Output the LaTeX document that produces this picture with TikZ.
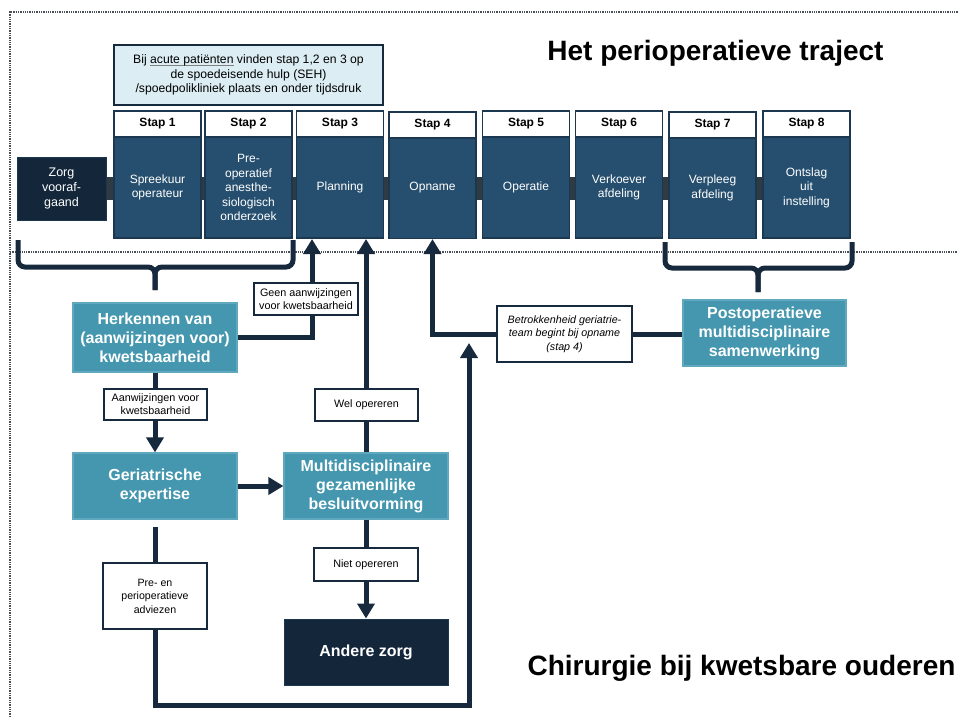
\documentclass[tikz,border=0pt]{standalone}
\usepackage{fontspec}
\setmainfont{Liberation Sans}
\usetikzlibrary{arrows.meta}
\definecolor{stageblue}{HTML}{264F6F}
\definecolor{stageborder}{HTML}{1B3850}
\definecolor{navy}{HTML}{13263A}
\definecolor{tealbox}{HTML}{4497AE}
\definecolor{tealborder}{HTML}{5FA8BD}
\definecolor{bandgray}{HTML}{2E3B43}
\definecolor{linecol}{HTML}{172A3D}
\definecolor{lightblue}{HTML}{DCEEF4}
\definecolor{dotcol}{HTML}{4A4F55}
\newcommand\myfs[2]{\fontsize{#1}{#2}\selectfont}
\newcommand\myul[1]{\setbox0\hbox{#1}\rlap{\raisebox{-2pt}{\color{gray}\rule{\wd0}{0.7pt}}}\box0\relax}
\begin{document}
\begin{tikzpicture}[x=1pt,y=-1pt,
  stagebody/.style={fill=stageblue,draw=stageborder,line width=1.2pt,text=white,
    font=\myfs{12}{14.5},align=center,minimum width=87pt,minimum height=101pt,inner sep=0pt},
  stephead/.style={fill=white,draw=stageborder,line width=1.2pt,text=black,
    font=\myfs{12}{14}\bfseries,minimum width=87pt,minimum height=26pt,inner sep=0pt},
  navybox/.style={fill=navy,draw=stageborder,line width=1pt,text=white,align=center,inner sep=0pt},
  tealnode/.style={fill=tealbox,draw=tealborder,line width=1.2pt,text=white,
    font=\myfs{16}{19}\bfseries,align=center,minimum width=164pt,minimum height=66pt,inner sep=0pt},
  lbl/.style={fill=white,draw=linecol,line width=1.3pt,text=black,
    font=\myfs{10.8}{12.8},align=center,inner sep=0pt},
  conn/.style={draw=linecol,line width=5pt},
  arr/.style={conn,-{Triangle[width=17pt,length=15pt]}},
  dotline/.style={draw=dotcol,line width=1.3pt,dash pattern=on 1.3pt off 1pt},
  titletext/.style={font=\myfs{28}{32}\bfseries,text=black,inner sep=0pt}
]
\useasboundingbox (0,0) rectangle (958,717);
\fill[white] (0,0) rectangle (958,717);

% dotted frame
\draw[dotline] (10,717) -- (10,12) -- (958,12);
\draw[dotline] (10,252) -- (958,252);

% titles
\node[titletext] (t1) at (715.5,53) {Het perioperatieve traject};
\node[titletext] (t2) at (741.5,668) {Chirurgie bij kwetsbare ouderen};

% acute box
\node[fill=lightblue,draw=linecol,line width=1.5pt,font=\myfs{12.2}{14.5},align=center,
  minimum width=269pt,minimum height=60pt,inner sep=0pt] (acute) at (248.5,75)
  {Bij \myul{acute patiënten} vinden stap 1,2 en 3 op\\de spoedeisende hulp (SEH)\\/spoedpolikliniek plaats en onder tijdsdruk};

% timeline
\node[navybox,font=\myfs{12.5}{15},minimum width=89pt,minimum height=63pt] (zorg) at (61.5,188.5) {Zorg\\vooraf-\\gaand};
\node[stagebody] (s1) at (157.5,187.5) {Spreekuur\\operateur};
\node[stagebody] (s2) at (248.5,187.5) {Pre-\\operatief\\anesthe-\\siologisch\\onderzoek};
\node[stagebody] (s3) at (340,187.5) {Planning};
\node[stagebody] (s4) at (432.5,188) {Opname};
\node[stagebody] (s5) at (526,187.5) {Operatie};
\node[stagebody] (s6) at (619,187.5) {Verkoever\\afdeling};
\node[stagebody] (s7) at (712.5,188) {Verpleeg\\afdeling};
\node[stagebody] (s8) at (806.5,187.5) {Ontslag\\uit\\instelling};
\node[stephead] (h1) at (157.5,124) {Stap 1};
\node[stephead] (h2) at (248.5,124) {Stap 2};
\node[stephead] (h3) at (340,124) {Stap 3};
\node[stephead] (h4) at (432.5,125) {Stap 4};
\node[stephead] (h5) at (526,124) {Stap 5};
\node[stephead] (h6) at (619,124) {Stap 6};
\node[stephead] (h7) at (712.5,125) {Stap 7};
\node[stephead] (h8) at (806.5,124) {Stap 8};

% band segments between boxes
\foreach \a/\b in {zorg/s1,s1/s2,s2/s3,s3/s4,s4/s5,s5/s6,s6/s7,s7/s8}{
  \fill[bandgray] ([yshift=-11.5pt]\a.east |- zorg.center) rectangle ([yshift=11.5pt]\b.west |- zorg.center);
}

% main boxes
\node[tealnode,minimum height=69pt] (herk) at (155,337.5) {Herkennen van\\(aanwijzingen voor)\\kwetsbaarheid};
\node[tealnode] (ger) at (155,486) {Geriatrische\\expertise};
\node[tealnode] (multi) at (366,486) {Multidisciplinaire\\gezamenlijke\\besluitvorming};
\node[navybox,font=\myfs{16}{19}\bfseries,minimum width=164pt,minimum height=66pt] (andere) at (366,652) {Andere zorg};
\node[tealnode,minimum width=163pt] (postop) at (764.5,333) {Postoperatieve\\multidisciplinaire\\samenwerking};

% coordinates
\coordinate (a3l) at (312,239);
\coordinate (a3r) at (366,239);
\coordinate (joinup) at (469,343);
\coordinate (botleft) at (155,705);

% braces
\draw[conn,rounded corners=7pt] (18,240) |- (155,267) -- (155,290);
\draw[conn,rounded corners=7pt] (293,240) |- (155,267) -- (155,290);
\draw[conn,rounded corners=7pt] (665,242) |- (758,268) -- (758,292);
\draw[conn,rounded corners=7pt] (852,242) |- (758,268) -- (758,292);

% connectors
\draw[arr] (herk.east) -| (a3l);
\draw[arr] (herk.south) -- (ger.north);
\draw[arr] (ger.east) -- (multi.west);
\draw[arr] (multi.north) -- (a3r);
\draw[arr] (multi.south) -- (andere.north);
\draw[arr] ([yshift=-7pt]ger.south) -- (botleft) -| (joinup);

% labels
\node[lbl,minimum width=104pt,minimum height=32pt] (geen) at (306,299) {Geen aanwijzingen\\voor kwetsbaarheid};
\node[lbl,minimum width=103pt,minimum height=31pt] (aanw) at (155.5,404.5) {Aanwijzingen voor\\kwetsbaarheid};
\node[lbl,minimum width=103pt,minimum height=32pt] (wel) at (366.5,405) {Wel opereren};
\node[lbl,minimum width=104pt,minimum height=33pt] (niet) at (366,564.5) {Niet opereren};
\node[lbl,minimum width=104pt,minimum height=66pt,font=\myfs{10.6}{13.5}] (pre) at (155,596) {Pre- en\\perioperatieve\\adviezen};
\node[lbl,minimum width=135pt,minimum height=56pt,font=\myfs{10.7}{13.5}\itshape] (bet) at (564.5,334) {Betrokkenheid geriatrie-\\team begint bij opname\\(stap 4)};

\draw[arr] (bet.west) -| (s4.south);
\draw[conn] (bet.east) -- (bet.east -| postop.west);
\end{tikzpicture}
\end{document}
